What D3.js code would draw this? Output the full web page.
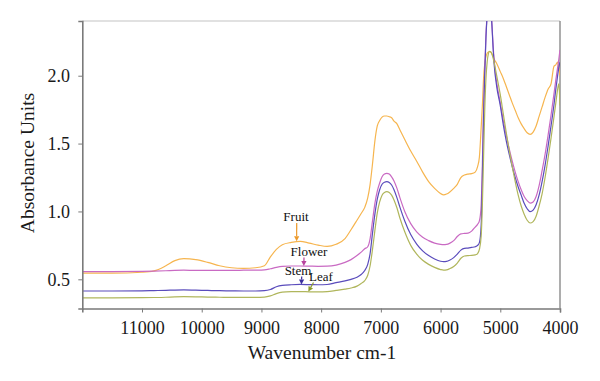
<!DOCTYPE html>
<html><head><meta charset="utf-8">
<script src="https://cdn.jsdelivr.net/npm/d3@7/dist/d3.min.js"></script>
<style>html,body{margin:0;padding:0;background:#fff;}svg{display:block;}</style>
</head><body>
<svg id="chart" width="600" height="381"></svg>
<script>
const wavenumbers = [12000,11500,11000,10800,10600,10450,10300,10100,9900,9700,9500,9300,9100,8950,8850,8750,8650,8500,8350,8200,8050,7900,7750,7600,7500,7400,7330,7270,7220,7180,7140,7100,7060,7020,6980,6940,6900,6860,6820,6780,6730,6680,6600,6500,6400,6300,6200,6100,6000,5950,5900,5850,5780,5720,5660,5600,5540,5480,5420,5380,5350,5320,5300,5280,5260,5240,5220,5200,5180,5160,5140,5120,5100,5060,5000,4950,4900,4850,4800,4750,4700,4650,4600,4550,4500,4450,4400,4350,4300,4250,4200,4150,4100,4070,4040,4020,4000];

const fruit = [0.545,0.545,0.552,0.562,0.600,0.638,0.652,0.645,0.625,0.600,0.585,0.580,0.585,0.600,0.665,0.720,0.755,0.772,0.780,0.767,0.752,0.742,0.758,0.800,0.865,0.935,0.985,1.030,1.100,1.200,1.350,1.520,1.630,1.670,1.695,1.703,1.703,1.698,1.690,1.665,1.645,1.600,1.530,1.445,1.370,1.290,1.220,1.170,1.132,1.122,1.128,1.142,1.170,1.200,1.250,1.268,1.275,1.278,1.290,1.330,1.400,1.620,1.780,1.980,2.090,2.140,2.165,2.175,2.178,2.175,2.160,2.140,2.120,2.090,2.030,1.980,1.920,1.860,1.800,1.745,1.690,1.645,1.610,1.580,1.568,1.585,1.630,1.700,1.770,1.840,1.900,1.940,2.070,2.080,2.100,2.060,2.000];

const flower = [0.556,0.556,0.558,0.560,0.563,0.566,0.567,0.566,0.566,0.566,0.566,0.567,0.568,0.570,0.578,0.588,0.595,0.598,0.598,0.597,0.596,0.597,0.605,0.625,0.645,0.675,0.700,0.725,0.740,0.800,0.930,1.060,1.150,1.210,1.255,1.275,1.281,1.275,1.255,1.225,1.170,1.100,1.000,0.910,0.850,0.810,0.785,0.767,0.757,0.755,0.757,0.765,0.785,0.815,0.835,0.838,0.840,0.855,0.885,0.905,0.930,1.050,1.350,1.750,2.050,2.300,2.450,2.520,2.540,2.500,2.380,2.220,2.100,1.950,1.800,1.670,1.560,1.460,1.370,1.290,1.220,1.160,1.110,1.080,1.062,1.070,1.110,1.190,1.300,1.420,1.560,1.710,1.870,1.970,2.060,2.120,2.190];

const stem = [0.414,0.414,0.415,0.417,0.419,0.421,0.422,0.420,0.418,0.416,0.415,0.414,0.414,0.416,0.425,0.445,0.455,0.460,0.462,0.461,0.460,0.462,0.475,0.488,0.500,0.515,0.535,0.565,0.610,0.690,0.840,0.980,1.090,1.160,1.200,1.215,1.219,1.213,1.195,1.160,1.100,1.030,0.930,0.830,0.760,0.710,0.675,0.650,0.633,0.630,0.632,0.640,0.660,0.685,0.715,0.728,0.730,0.735,0.740,0.750,0.770,0.900,1.250,1.700,2.020,2.280,2.440,2.520,2.540,2.500,2.370,2.200,2.070,1.920,1.780,1.640,1.520,1.420,1.330,1.250,1.180,1.120,1.060,1.020,0.998,1.010,1.050,1.120,1.220,1.340,1.480,1.630,1.790,1.900,2.000,2.060,2.100];

const leaf = [0.364,0.364,0.365,0.366,0.368,0.371,0.372,0.371,0.369,0.368,0.367,0.367,0.367,0.369,0.378,0.395,0.405,0.409,0.410,0.408,0.407,0.409,0.418,0.428,0.436,0.450,0.470,0.490,0.530,0.600,0.720,0.860,0.990,1.070,1.120,1.140,1.146,1.140,1.120,1.085,1.025,0.950,0.850,0.750,0.685,0.640,0.610,0.588,0.572,0.568,0.570,0.578,0.595,0.620,0.655,0.672,0.675,0.676,0.680,0.690,0.720,0.820,1.050,1.400,1.750,1.980,2.100,2.160,2.180,2.175,2.160,2.130,2.090,2.000,1.860,1.720,1.580,1.450,1.330,1.220,1.120,1.040,0.980,0.935,0.915,0.925,0.965,1.040,1.130,1.250,1.390,1.540,1.700,1.800,1.900,1.940,1.780];

const seriesNames = ["Fruit","Flower","Stem","Leaf"];
const seriesValues = [fruit, flower, stem, leaf];
const seriesColors = ["#f6b54f","#c96ac3","#5a4cbc","#b0b65c"];

const xTicks = [11000,10000,9000,8000,7000,6000,5000,4000];
const yTicks = [0.5,1.0,1.5,2.0];

// annotation anchors: wavenumber and absorbance of each arrow tip
const labelWn = [8410, 8290, 8330, 8215];
const labelTipAbs = [0.780, 0.598, 0.462, 0.410];

const svg = d3.select("#chart");
const L = 82.3, R = 560, T = 21, B = 308.5;
const x = d3.scaleLinear().domain([12000,4000]).range([L,R]);
const y = d3.scaleLinear().domain([0.285,2.403]).range([B,T]);

svg.append("defs").append("clipPath").attr("id","clip")
  .append("rect").attr("x",L).attr("y",T).attr("width",R-L).attr("height",B-T);

svg.append("line").attr("x1",L).attr("x2",R).attr("y1",T).attr("y2",T).attr("stroke","#c4c4c4").attr("stroke-width",1.2);
svg.append("line").attr("x1",R).attr("x2",R).attr("y1",T).attr("y2",B).attr("stroke","#8a8a8a").attr("stroke-width",1.4);

const line = d3.line().x((d,i)=>x(wavenumbers[i])).y(d=>y(d)).curve(d3.curveMonotoneX);
const g = svg.append("g").attr("clip-path","url(#clip)");
seriesValues.forEach((vals,k)=>{
  g.append("path").attr("d",line(vals)).attr("fill","none")
    .attr("stroke",seriesColors[k]).attr("stroke-width",1.2);
});

const font = "'Liberation Serif','Times New Roman',serif";
const xa = svg.append("g").attr("transform",`translate(0,${B})`)
  .call(d3.axisBottom(x).tickValues(xTicks).tickSize(4).tickPadding(8.5).tickFormat(d3.format("d")));
const ya = svg.append("g").attr("transform",`translate(${L},0)`)
  .call(d3.axisLeft(y).tickValues(yTicks).tickSize(4).tickPadding(8.3).tickFormat(d3.format(".1f")));
[xa,ya].forEach(a=>{
  a.select(".domain").attr("stroke","#7a7a7a").attr("stroke-width",1.6);
  a.selectAll(".tick line").attr("stroke","#7a7a7a").attr("stroke-width",1);
  a.selectAll(".tick text").attr("font-family",font).attr("font-size",18).attr("fill","#1a1a1a");
});

svg.append("text").attr("x",322).attr("y",359).attr("text-anchor","middle")
  .attr("font-family",font).attr("font-size",19.5).attr("fill","#1a1a1a").text("Wavenumber cm-1");
svg.append("text").attr("transform","translate(34,163) rotate(-90)").attr("text-anchor","middle")
  .attr("font-family",font).attr("font-size",19.5).attr("fill","#1a1a1a").text("Absorbance Units");

const labelPos = [[296,220.5],[309,255.7],[298,275],[321,280.7]];
const arrowColors = ["#ec9a2c","#b8449e","#3b2f9e","#8c9a2c"];
const arrowStart = [[296.7,223],[304,257.5],[301.7,276.5],[313.5,282.5]];
seriesNames.forEach((n,k)=>{
  svg.append("text").attr("x",labelPos[k][0]).attr("y",labelPos[k][1]).attr("text-anchor","middle")
    .attr("font-family",font).attr("font-size",13).attr("fill","#111").text(n);
  const x0 = arrowStart[k][0], y0 = arrowStart[k][1];
  const x1 = x(labelWn[k]), y1 = y(labelTipAbs[k]);
  const ang = Math.atan2(y1-y0,x1-x0);
  const hl = 5, hw = 2.6;
  const bx = x1 - hl*Math.cos(ang), by = y1 - hl*Math.sin(ang);
  svg.append("line").attr("x1",x0).attr("y1",y0).attr("x2",bx).attr("y2",by)
    .attr("stroke",arrowColors[k]).attr("stroke-width",1.2);
  svg.append("path").attr("d",`M${x1},${y1}L${bx+hw*Math.sin(ang)},${by-hw*Math.cos(ang)}L${bx-hw*Math.sin(ang)},${by+hw*Math.cos(ang)}Z`)
    .attr("fill",arrowColors[k]);
});
</script>
</body></html>
